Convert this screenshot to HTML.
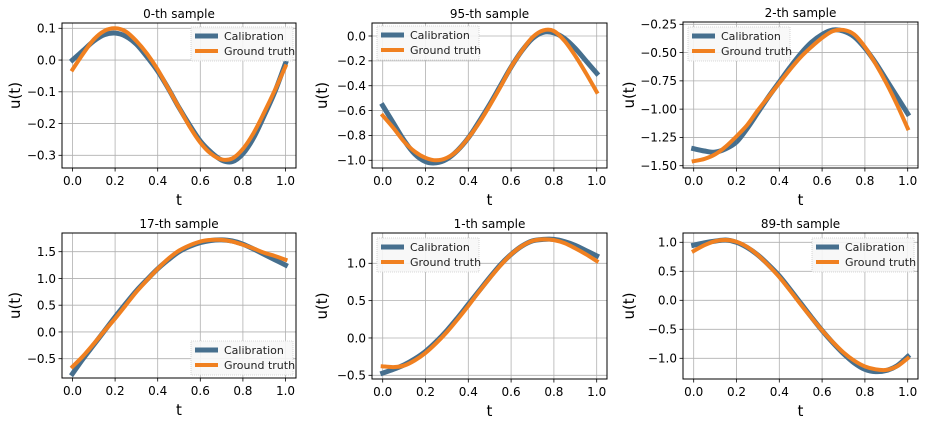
<!DOCTYPE html>
<html><head><meta charset="utf-8"><style>
body{margin:0;background:#fff}
svg{display:block;font-family:"DejaVu Sans","Liberation Sans",sans-serif}
</style></head><body>
<svg id="fig" width="925" height="424" viewBox="0 0 925 424" xmlns="http://www.w3.org/2000/svg"></svg>
<script>
const tVals = [0,0.05,0.1,0.15,0.2,0.25,0.3,0.35,0.4,0.45,0.5,0.55,0.6,0.65,0.7,0.75,0.8,0.85,0.9,0.95,1.0];
const xTicks = [0,0.2,0.4,0.6,0.8,1.0];
const xTickLabels = ["0.0","0.2","0.4","0.6","0.8","1.0"];
const titles = ["0-th sample","95-th sample","2-th sample","17-th sample","1-th sample","89-th sample"];
const truth0 = [-0.03,0.02,0.065,0.092,0.1,0.09,0.06,0.02,-0.03,-0.09,-0.15,-0.21,-0.26,-0.295,-0.313,-0.31,-0.28,-0.23,-0.165,-0.095,-0.02];
const calib0 = [0.0,0.03,0.06,0.08,0.085,0.075,0.05,0.01,-0.035,-0.09,-0.15,-0.205,-0.255,-0.29,-0.315,-0.32,-0.295,-0.245,-0.175,-0.1,-0.01];
const truth1 = [-0.64,-0.74,-0.85,-0.93,-0.98,-1.0,-0.98,-0.92,-0.82,-0.7,-0.56,-0.41,-0.25,-0.12,-0.01,0.045,0.04,-0.04,-0.16,-0.3,-0.45];
const calib1 = [-0.56,-0.7,-0.84,-0.95,-1.01,-1.02,-0.99,-0.92,-0.82,-0.69,-0.55,-0.4,-0.25,-0.12,-0.02,0.03,0.025,-0.02,-0.1,-0.2,-0.3];
const truth2 = [-1.46,-1.44,-1.4,-1.33,-1.24,-1.14,-1.01,-0.89,-0.77,-0.65,-0.54,-0.45,-0.37,-0.31,-0.3,-0.34,-0.45,-0.6,-0.77,-0.96,-1.17];
const calib2 = [-1.35,-1.37,-1.38,-1.35,-1.29,-1.17,-1.03,-0.89,-0.76,-0.63,-0.51,-0.41,-0.34,-0.3,-0.31,-0.36,-0.46,-0.59,-0.74,-0.89,-1.04];
const truth3 = [-0.65,-0.45,-0.22,0.02,0.25,0.5,0.75,0.97,1.18,1.37,1.52,1.62,1.69,1.72,1.72,1.69,1.63,1.56,1.48,1.42,1.35];
const calib3 = [-0.78,-0.5,-0.24,0.02,0.28,0.53,0.77,0.98,1.18,1.35,1.5,1.6,1.67,1.71,1.72,1.7,1.64,1.55,1.45,1.35,1.25];
const truth4 = [-0.38,-0.39,-0.37,-0.3,-0.2,-0.07,0.08,0.25,0.43,0.62,0.8,0.97,1.12,1.23,1.3,1.32,1.31,1.27,1.2,1.12,1.03];
const calib4 = [-0.47,-0.42,-0.36,-0.28,-0.18,-0.05,0.1,0.27,0.45,0.63,0.81,0.98,1.12,1.23,1.3,1.32,1.32,1.29,1.24,1.17,1.1];
const truth5 = [0.85,0.95,1.02,1.04,1.01,0.92,0.78,0.6,0.4,0.17,-0.07,-0.3,-0.52,-0.72,-0.9,-1.04,-1.14,-1.19,-1.2,-1.14,-1.0];
const calib5 = [0.95,0.99,1.02,1.04,1.0,0.91,0.78,0.61,0.42,0.19,-0.05,-0.29,-0.52,-0.73,-0.92,-1.08,-1.19,-1.23,-1.21,-1.13,-0.97];
const yTicks0 = [0.1,0.0,-0.1,-0.2,-0.3];
const yTickLabels0 = ["0.1","0.0","\u22120.1","\u22120.2","\u22120.3"];
const yTicks1 = [0.0,-0.2,-0.4,-0.6,-0.8,-1.0];
const yTickLabels1 = ["0.0","\u22120.2","\u22120.4","\u22120.6","\u22120.8","\u22121.0"];
const yTicks2 = [-0.25,-0.5,-0.75,-1.0,-1.25,-1.5];
const yTickLabels2 = ["\u22120.25","\u22120.50","\u22120.75","\u22121.00","\u22121.25","\u22121.50"];
const yTicks3 = [1.5,1.0,0.5,0.0,-0.5];
const yTickLabels3 = ["1.5","1.0","0.5","0.0","\u22120.5"];
const yTicks4 = [1.0,0.5,0.0,-0.5];
const yTickLabels4 = ["1.0","0.5","0.0","\u22120.5"];
const yTicks5 = [1.0,0.5,0.0,-0.5,-1.0];
const yTickLabels5 = ["1.0","0.5","0.0","\u22120.5","\u22121.0"];

const NS="http://www.w3.org/2000/svg";
const svg=document.getElementById('fig');
function mk(tag,attrs,parent,text){const e=document.createElementNS(NS,tag);for(const k in attrs)e.setAttribute(k,attrs[k]);if(text!==undefined)e.textContent=text;(parent||svg).appendChild(e);return e;}

// layout: [left,right,top,bottom,x0px,x1px,yA val,yA px,yB val,yB px,legend x,legend y]
const panels=[
 {L:62,R:296,T:23,B:168,X0:72.5,X1:285.5,ya:0.1,yap:28.3,yb:-0.3,ybp:155.3,lx:191,ly:27,truth:truth0,calib:calib0,yt:yTicks0,yl:yTickLabels0,ylx:20},
 {L:372,R:607,T:23,B:168,X0:382.7,X1:596.7,ya:0.0,yap:36,yb:-1.0,ybp:160.3,lx:377,ly:26,truth:truth1,calib:calib1,yt:yTicks1,yl:yTickLabels1,ylx:327},
 {L:683,R:918,T:22,B:168,X0:693.7,X1:907.7,ya:-0.25,yap:24.3,yb:-1.5,ybp:165.7,lx:688,ly:27,truth:truth2,calib:calib2,yt:yTicks2,yl:yTickLabels2,ylx:634},
 {L:62,R:296,T:233,B:378,X0:72.5,X1:285.5,ya:1.5,yap:251.7,yb:-0.5,ybp:358.7,lx:191,ly:341,truth:truth3,calib:calib3,yt:yTicks3,yl:yTickLabels3,ylx:20},
 {L:372,R:607,T:233,B:379,X0:382.7,X1:596.7,ya:1.0,yap:263.3,yb:-0.5,ybp:375.3,lx:377,ly:238,truth:truth4,calib:calib4,yt:yTicks4,yl:yTickLabels4,ylx:327},
 {L:683,R:918,T:233,B:379,X0:693.7,X1:907.7,ya:1.0,yap:242.3,yb:-1.0,ybp:358.3,lx:812,ly:238,truth:truth5,calib:calib5,yt:yTicks5,yl:yTickLabels5,ylx:634}
];

function smoothPath(pts){
  let d='M'+pts[0][0].toFixed(2)+','+pts[0][1].toFixed(2);
  for(let i=0;i<pts.length-1;i++){
    const p0=pts[Math.max(0,i-1)],p1=pts[i],p2=pts[i+1],p3=pts[Math.min(pts.length-1,i+2)];
    const c1=[p1[0]+(p2[0]-p0[0])/6,p1[1]+(p2[1]-p0[1])/6];
    const c2=[p2[0]-(p3[0]-p1[0])/6,p2[1]-(p3[1]-p1[1])/6];
    d+=' C'+c1[0].toFixed(2)+','+c1[1].toFixed(2)+' '+c2[0].toFixed(2)+','+c2[1].toFixed(2)+' '+p2[0].toFixed(2)+','+p2[1].toFixed(2);
  }
  return d;
}

panels.forEach((p,i)=>{
  const g=mk('g',{});
  
  
  const xs=v=>p.X0+(p.X1-p.X0)*v;
  const ys=v=>p.yap+(p.ybp-p.yap)*(v-p.ya)/(p.yb-p.ya);
  // grid
  xTicks.forEach((v,k)=>{
    const x=xs(v);
    const gl=mk('line',{x1:x,x2:x,y1:p.T,y2:p.B,stroke:'#b0b0b0','stroke-width':0.8},g);
    
    
    mk('line',{x1:x,x2:x,y1:p.B,y2:p.B+3.5,stroke:'#000','stroke-width':0.8},g);
    const t=mk('text',{x:x,y:p.B+17,'text-anchor':'middle','font-size':12,fill:'#000'},g,xTickLabels[k]);
    
    
  });
  p.yt.forEach((v,k)=>{
    const y=ys(v);
    const gl=mk('line',{x1:p.L,x2:p.R,y1:y,y2:y,stroke:'#b0b0b0','stroke-width':0.8},g);
    
    
    mk('line',{x1:p.L-3.5,x2:p.L,y1:y,y2:y,stroke:'#000','stroke-width':0.8},g);
    const t=mk('text',{x:p.L-6,y:y+4.3,'text-anchor':'end','font-size':12,fill:'#000'},g,p.yl[k]);
    
    
  });
  // series
  const cp=mk('path',{d:smoothPath(tVals.map((t,k)=>[xs(t),ys(p.calib[k])])),fill:'none',stroke:'#466f8e','stroke-width':5,'stroke-linecap':'square','stroke-linejoin':'round'},g);
  
  
  const tp=mk('path',{d:smoothPath(tVals.map((t,k)=>[xs(t),ys(p.truth[k])])),fill:'none',stroke:'#f08020','stroke-width':4,'stroke-linecap':'square','stroke-linejoin':'round'},g);
  
  
  // frame
  const fr=mk('rect',{x:p.L,y:p.T,width:p.R-p.L,height:p.B-p.T,fill:'none',stroke:'#000','stroke-width':1},g);
  
  
  // title & labels
  const tt=mk('text',{x:(p.L+p.R)/2,y:p.T-5,'text-anchor':'middle','font-size':12,fill:'#000'},g,titles[i]);
  
  
  const xl=mk('text',{x:(p.L+p.R)/2,y:p.B+37,'text-anchor':'middle','font-size':15,fill:'#000'},g,'t');
  
  
  const cy=(p.T+p.B)/2;
  const yl=mk('text',{x:p.ylx,y:cy,'text-anchor':'middle','font-size':15,fill:'#000',transform:'rotate(-90 '+p.ylx+' '+cy+')'},g,'u(t)');
  
  
  // legend
  const lg=mk('g',{},g);
  
  
  mk('rect',{x:p.lx,y:p.ly,width:102,height:34,fill:'#f7f7f7','fill-opacity':0.9,stroke:'#cccccc','stroke-width':0.8,'stroke-dasharray':'1,1'},lg);
  const e1=mk('g',{},lg);
  
  
  mk('line',{x1:p.lx+4,x2:p.lx+27,y1:p.ly+9,y2:p.ly+9,stroke:'#466f8e','stroke-width':5},e1);
  mk('text',{x:p.lx+33,y:p.ly+13,'font-size':11,fill:'#222'},e1,'Calibration');
  const e2=mk('g',{},lg);
  
  
  mk('line',{x1:p.lx+4,x2:p.lx+27,y1:p.ly+24,y2:p.ly+24,stroke:'#f08020','stroke-width':4},e2);
  mk('text',{x:p.lx+33,y:p.ly+28,'font-size':11,fill:'#222'},e2,'Ground truth');
});
</script>
</body></html>
